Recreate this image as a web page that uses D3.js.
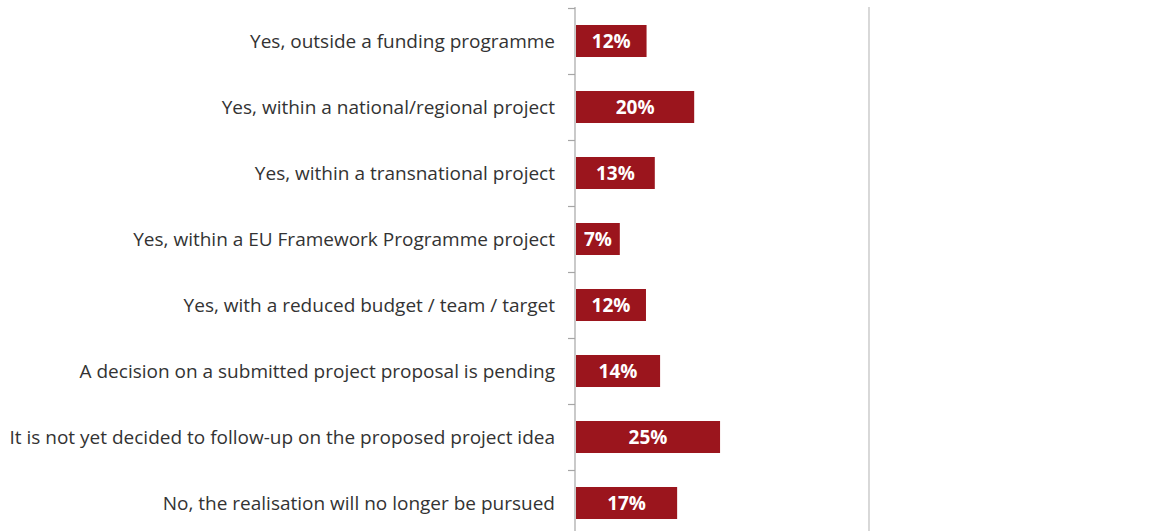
<!DOCTYPE html>
<html>
<head>
<meta charset="utf-8">
<script src="https://cdn.jsdelivr.net/npm/d3@7"></script>
<style>
  html, body { margin: 0; padding: 0; background: #fff; }
  svg { display: block; }
</style>
</head>
<body>
<svg id="chart" width="1154" height="531"></svg>
<script>
const categories = [
  "Yes, outside a funding programme",
  "Yes, within a national/regional project",
  "Yes, within a transnational project",
  "Yes, within a EU Framework Programme project",
  "Yes, with a reduced budget / team / target",
  "A decision on a submitted project proposal is pending",
  "It is not yet decided to follow-up on the proposed project idea",
  "No, the realisation will no longer be pursued"
];
const values = [12.0, 20.1, 13.4, 7.45, 11.9, 14.3, 24.5, 17.2];
const xDomain = [0, 50];

const svg = d3.select("#chart");
const W = 1154, H = 531;
const x0 = 575, x1 = 869;

const x = d3.scaleLinear().domain(xDomain).range([x0, x1]);
const y = d3.scaleBand().domain(categories).range([8, 536]).paddingInner(0.515).paddingOuter(0.2575);

const gridColor = "#a6a6a6";

// right boundary line
svg.append("line")
  .attr("x1", x(xDomain[1])).attr("x2", x(xDomain[1]))
  .attr("y1", 7).attr("y2", H)
  .attr("stroke", "#bfbfbf").attr("stroke-width", 1.2);

// bars
svg.append("g").selectAll("rect").data(values).join("rect")
  .attr("x", x(0) + 1)
  .attr("y", (d, i) => y(categories[i]))
  .attr("width", d => x(d) - x(0))
  .attr("height", y.bandwidth())
  .attr("fill", "#9b151d");

// value labels
svg.append("g").selectAll("text").data(values).join("text")
  .attr("x", d => x(0) + 1 + (x(d) - x(0)) / 2)
  .attr("y", (d, i) => y(categories[i]) + y.bandwidth() / 2)
  .attr("dy", "0.36em")
  .attr("text-anchor", "middle")
  .attr("fill", "#ffffff")
  .attr("font-family", "'Open Sans', sans-serif")
  .attr("font-weight", "bold")
  .attr("font-size", 19)
  .text(d => Math.round(d) + "%");

// left axis line
svg.append("line")
  .attr("x1", x0).attr("x2", x0)
  .attr("y1", 7).attr("y2", H)
  .attr("stroke", gridColor).attr("stroke-width", 1.2);

// tick marks at band boundaries
const gap = (y.step() - y.bandwidth()) / 2;
const bounds = categories.map(c => y(c) - gap);
svg.append("g").selectAll("line").data(bounds).join("line")
  .attr("x1", x0 - 7).attr("x2", x0)
  .attr("y1", d => Math.round(d) + 0.5).attr("y2", d => Math.round(d) + 0.5)
  .attr("stroke", gridColor).attr("stroke-width", 1.2);

// category labels
const labels = svg.append("g").selectAll("text").data(categories).join("text")
  .attr("x", 555)
  .attr("y", c => y(c) + y.bandwidth() / 2)
  .attr("dy", "0.36em")
  .attr("text-anchor", "end")
  .attr("fill", "#333333")
  .attr("font-family", "'Open Sans', sans-serif")
  .attr("font-size", 18)
  .text(c => c);

// fit font size so the longest label spans like the reference
let maxLen = 0;
labels.each(function() { maxLen = Math.max(maxLen, this.getComputedTextLength()); });
const fs = 18 * 546 / maxLen;
labels.attr("font-size", fs);
</script>
</body>
</html>
